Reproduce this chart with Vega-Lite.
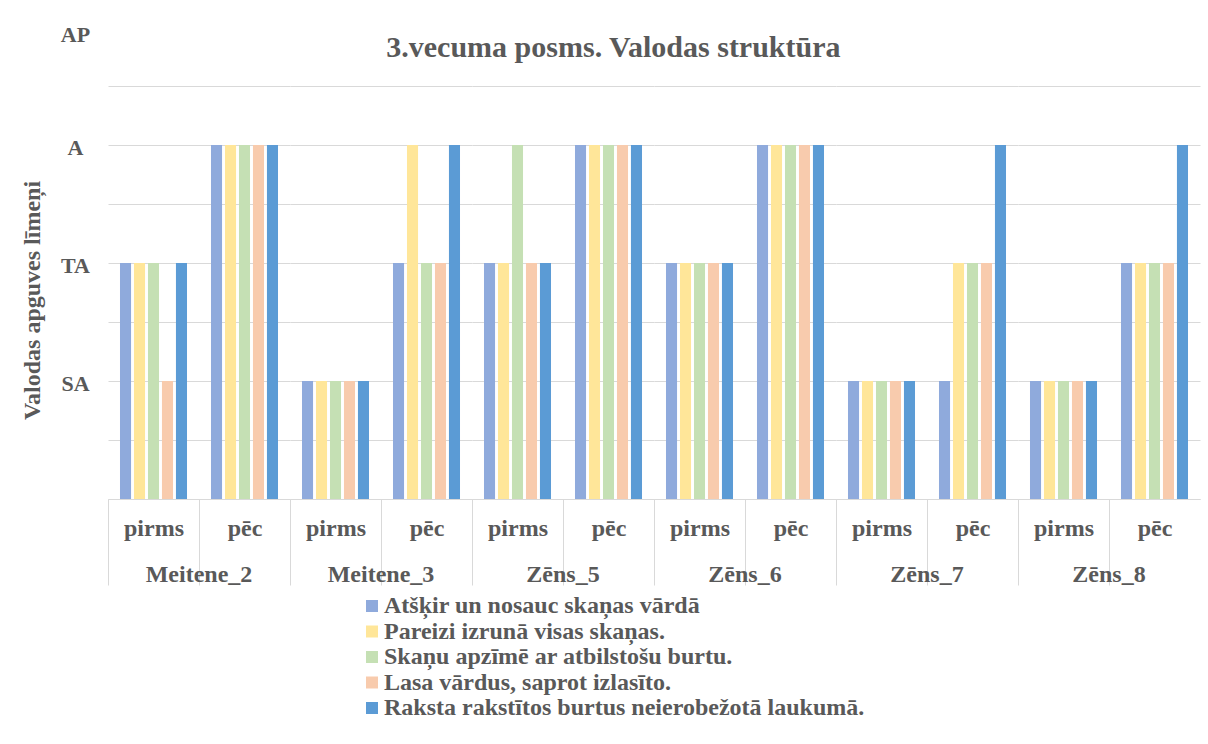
{
  "$schema": "https://vega.github.io/schema/vega-lite/v6.json",
  "background": "white",
  "padding": {"left": 20, "top": 23, "right": 8, "bottom": 5},
  "title": {"text": "3.vecuma posms. Valodas struktūra", "font": "Liberation Serif", "fontSize": 30, "fontWeight": "bold", "color": "#595959", "anchor": "middle", "frame": "bounds", "offset": -40, "dx": 3},
  "data": {"values": [
    {"s": "Meitene_2", "t": "pirms", "k": "Atšķir un nosauc skaņas vārdā", "v": 2},
    {"s": "Meitene_2", "t": "pirms", "k": "Pareizi izrunā visas skaņas.", "v": 2},
    {"s": "Meitene_2", "t": "pirms", "k": "Skaņu apzīmē ar atbilstošu burtu.", "v": 2},
    {"s": "Meitene_2", "t": "pirms", "k": "Lasa vārdus, saprot izlasīto.", "v": 1},
    {"s": "Meitene_2", "t": "pirms", "k": "Raksta rakstītos burtus neierobežotā laukumā.", "v": 2},
    {"s": "Meitene_2", "t": "pēc", "k": "Atšķir un nosauc skaņas vārdā", "v": 3},
    {"s": "Meitene_2", "t": "pēc", "k": "Pareizi izrunā visas skaņas.", "v": 3},
    {"s": "Meitene_2", "t": "pēc", "k": "Skaņu apzīmē ar atbilstošu burtu.", "v": 3},
    {"s": "Meitene_2", "t": "pēc", "k": "Lasa vārdus, saprot izlasīto.", "v": 3},
    {"s": "Meitene_2", "t": "pēc", "k": "Raksta rakstītos burtus neierobežotā laukumā.", "v": 3},
    {"s": "Meitene_3", "t": "pirms", "k": "Atšķir un nosauc skaņas vārdā", "v": 1},
    {"s": "Meitene_3", "t": "pirms", "k": "Pareizi izrunā visas skaņas.", "v": 1},
    {"s": "Meitene_3", "t": "pirms", "k": "Skaņu apzīmē ar atbilstošu burtu.", "v": 1},
    {"s": "Meitene_3", "t": "pirms", "k": "Lasa vārdus, saprot izlasīto.", "v": 1},
    {"s": "Meitene_3", "t": "pirms", "k": "Raksta rakstītos burtus neierobežotā laukumā.", "v": 1},
    {"s": "Meitene_3", "t": "pēc", "k": "Atšķir un nosauc skaņas vārdā", "v": 2},
    {"s": "Meitene_3", "t": "pēc", "k": "Pareizi izrunā visas skaņas.", "v": 3},
    {"s": "Meitene_3", "t": "pēc", "k": "Skaņu apzīmē ar atbilstošu burtu.", "v": 2},
    {"s": "Meitene_3", "t": "pēc", "k": "Lasa vārdus, saprot izlasīto.", "v": 2},
    {"s": "Meitene_3", "t": "pēc", "k": "Raksta rakstītos burtus neierobežotā laukumā.", "v": 3},
    {"s": "Zēns_5", "t": "pirms", "k": "Atšķir un nosauc skaņas vārdā", "v": 2},
    {"s": "Zēns_5", "t": "pirms", "k": "Pareizi izrunā visas skaņas.", "v": 2},
    {"s": "Zēns_5", "t": "pirms", "k": "Skaņu apzīmē ar atbilstošu burtu.", "v": 3},
    {"s": "Zēns_5", "t": "pirms", "k": "Lasa vārdus, saprot izlasīto.", "v": 2},
    {"s": "Zēns_5", "t": "pirms", "k": "Raksta rakstītos burtus neierobežotā laukumā.", "v": 2},
    {"s": "Zēns_5", "t": "pēc", "k": "Atšķir un nosauc skaņas vārdā", "v": 3},
    {"s": "Zēns_5", "t": "pēc", "k": "Pareizi izrunā visas skaņas.", "v": 3},
    {"s": "Zēns_5", "t": "pēc", "k": "Skaņu apzīmē ar atbilstošu burtu.", "v": 3},
    {"s": "Zēns_5", "t": "pēc", "k": "Lasa vārdus, saprot izlasīto.", "v": 3},
    {"s": "Zēns_5", "t": "pēc", "k": "Raksta rakstītos burtus neierobežotā laukumā.", "v": 3},
    {"s": "Zēns_6", "t": "pirms", "k": "Atšķir un nosauc skaņas vārdā", "v": 2},
    {"s": "Zēns_6", "t": "pirms", "k": "Pareizi izrunā visas skaņas.", "v": 2},
    {"s": "Zēns_6", "t": "pirms", "k": "Skaņu apzīmē ar atbilstošu burtu.", "v": 2},
    {"s": "Zēns_6", "t": "pirms", "k": "Lasa vārdus, saprot izlasīto.", "v": 2},
    {"s": "Zēns_6", "t": "pirms", "k": "Raksta rakstītos burtus neierobežotā laukumā.", "v": 2},
    {"s": "Zēns_6", "t": "pēc", "k": "Atšķir un nosauc skaņas vārdā", "v": 3},
    {"s": "Zēns_6", "t": "pēc", "k": "Pareizi izrunā visas skaņas.", "v": 3},
    {"s": "Zēns_6", "t": "pēc", "k": "Skaņu apzīmē ar atbilstošu burtu.", "v": 3},
    {"s": "Zēns_6", "t": "pēc", "k": "Lasa vārdus, saprot izlasīto.", "v": 3},
    {"s": "Zēns_6", "t": "pēc", "k": "Raksta rakstītos burtus neierobežotā laukumā.", "v": 3},
    {"s": "Zēns_7", "t": "pirms", "k": "Atšķir un nosauc skaņas vārdā", "v": 1},
    {"s": "Zēns_7", "t": "pirms", "k": "Pareizi izrunā visas skaņas.", "v": 1},
    {"s": "Zēns_7", "t": "pirms", "k": "Skaņu apzīmē ar atbilstošu burtu.", "v": 1},
    {"s": "Zēns_7", "t": "pirms", "k": "Lasa vārdus, saprot izlasīto.", "v": 1},
    {"s": "Zēns_7", "t": "pirms", "k": "Raksta rakstītos burtus neierobežotā laukumā.", "v": 1},
    {"s": "Zēns_7", "t": "pēc", "k": "Atšķir un nosauc skaņas vārdā", "v": 1},
    {"s": "Zēns_7", "t": "pēc", "k": "Pareizi izrunā visas skaņas.", "v": 2},
    {"s": "Zēns_7", "t": "pēc", "k": "Skaņu apzīmē ar atbilstošu burtu.", "v": 2},
    {"s": "Zēns_7", "t": "pēc", "k": "Lasa vārdus, saprot izlasīto.", "v": 2},
    {"s": "Zēns_7", "t": "pēc", "k": "Raksta rakstītos burtus neierobežotā laukumā.", "v": 3},
    {"s": "Zēns_8", "t": "pirms", "k": "Atšķir un nosauc skaņas vārdā", "v": 1},
    {"s": "Zēns_8", "t": "pirms", "k": "Pareizi izrunā visas skaņas.", "v": 1},
    {"s": "Zēns_8", "t": "pirms", "k": "Skaņu apzīmē ar atbilstošu burtu.", "v": 1},
    {"s": "Zēns_8", "t": "pirms", "k": "Lasa vārdus, saprot izlasīto.", "v": 1},
    {"s": "Zēns_8", "t": "pirms", "k": "Raksta rakstītos burtus neierobežotā laukumā.", "v": 1},
    {"s": "Zēns_8", "t": "pēc", "k": "Atšķir un nosauc skaņas vārdā", "v": 2},
    {"s": "Zēns_8", "t": "pēc", "k": "Pareizi izrunā visas skaņas.", "v": 2},
    {"s": "Zēns_8", "t": "pēc", "k": "Skaņu apzīmē ar atbilstošu burtu.", "v": 2},
    {"s": "Zēns_8", "t": "pēc", "k": "Lasa vārdus, saprot izlasīto.", "v": 2},
    {"s": "Zēns_8", "t": "pēc", "k": "Raksta rakstītos burtus neierobežotā laukumā.", "v": 3}
  ]},
  "facet": {
    "column": {
      "field": "s", "type": "nominal",
      "sort": ["Meitene_2", "Meitene_3", "Zēns_5", "Zēns_6", "Zēns_7", "Zēns_8"],
      "header": {"title": null, "labelOrient": "bottom", "labelFont": "Liberation Serif", "labelFontSize": 24, "labelFontWeight": "bold", "labelColor": "#595959", "labelPadding": -23}
    }
  },
  "spacing": 0,
  "spec": {
    "width": 182,
    "height": 472,
    "mark": {"type": "bar"},
    "encoding": {
      "x": {
        "field": "t", "type": "nominal", "sort": ["pirms", "pēc"],
        "scale": {"paddingInner": 0, "paddingOuter": 0},
        "axis": {
          "title": null, "labelAngle": 0,
          "labelFont": "Liberation Serif", "labelFontSize": 24, "labelFontWeight": "bold", "labelColor": "#595959",
          "labelBaseline": "top",
          "tickBand": "extent", "tickSize": 86,
          "tickColor": {"condition": {"test": "datum.value == 'pēc'", "value": "transparent"}, "value": "#d9d9d9"},
          "labelPadding": -69,
          "domainColor": "#d9d9d9"
        }
      },
      "xOffset": {
        "field": "k", "type": "nominal",
        "sort": ["Atšķir un nosauc skaņas vārdā", "Pareizi izrunā visas skaņas.", "Skaņu apzīmē ar atbilstošu burtu.", "Lasa vārdus, saprot izlasīto.", "Raksta rakstītos burtus neierobežotā laukumā."],
        "scale": {"paddingInner": 0.21, "paddingOuter": 0.857}
      },
      "y": {
        "field": "v", "type": "quantitative",
        "scale": {"domain": [0, 4], "nice": false},
        "axis": {
          "title": "Valodas apguves līmeņi",
          "titleFont": "Liberation Serif", "titleFontSize": 24, "titleFontWeight": "bold", "titleColor": "#595959",
          "titlePadding": 16, "titleY": 273,
          "values": [0, 0.5, 1, 1.5, 2, 2.5, 3, 3.5, 4],
          "labelExpr": "datum.value == 1 ? 'SA' : datum.value == 2 ? 'TA' : datum.value == 3 ? 'A' : datum.value == 4 ? 'AP' : ''",
          "labelFont": "Liberation Serif", "labelFontSize": 22, "labelFontWeight": "bold", "labelColor": "#595959",
          "labelAlign": "center", "labelPadding": 33,
          "labelOffset": {"condition": {"test": "datum.value == 4", "value": 7}, "value": 2},
          "ticks": false, "domain": false,
          "gridColor": "#d9d9d9",
          "gridOpacity": {"condition": {"test": "datum.value == 4", "value": 0}, "value": 1}
        }
      },
      "color": {
        "field": "k", "type": "nominal",
        "sort": ["Atšķir un nosauc skaņas vārdā", "Pareizi izrunā visas skaņas.", "Skaņu apzīmē ar atbilstošu burtu.", "Lasa vārdus, saprot izlasīto.", "Raksta rakstītos burtus neierobežotā laukumā."],
        "scale": {
          "domain": ["Atšķir un nosauc skaņas vārdā", "Pareizi izrunā visas skaņas.", "Skaņu apzīmē ar atbilstošu burtu.", "Lasa vārdus, saprot izlasīto.", "Raksta rakstītos burtus neierobežotā laukumā."],
          "range": ["#8faadc", "#ffe699", "#c5e0b4", "#f8cbad", "#5b9bd5"]
        },
        "legend": {
          "title": null, "orient": "none", "legendX": 252, "legendY": 567, "direction": "vertical",
          "symbolType": "square", "symbolSize": 144, "symbolStrokeWidth": 0,
          "labelFont": "Liberation Serif", "labelFontSize": 24, "labelFontWeight": "bold", "labelColor": "#595959",
          "labelLimit": 900, "rowPadding": 1.5, "labelOffset": 0
        }
      }
    }
  },
  "config": {
    "view": {"stroke": null}
  }
}
